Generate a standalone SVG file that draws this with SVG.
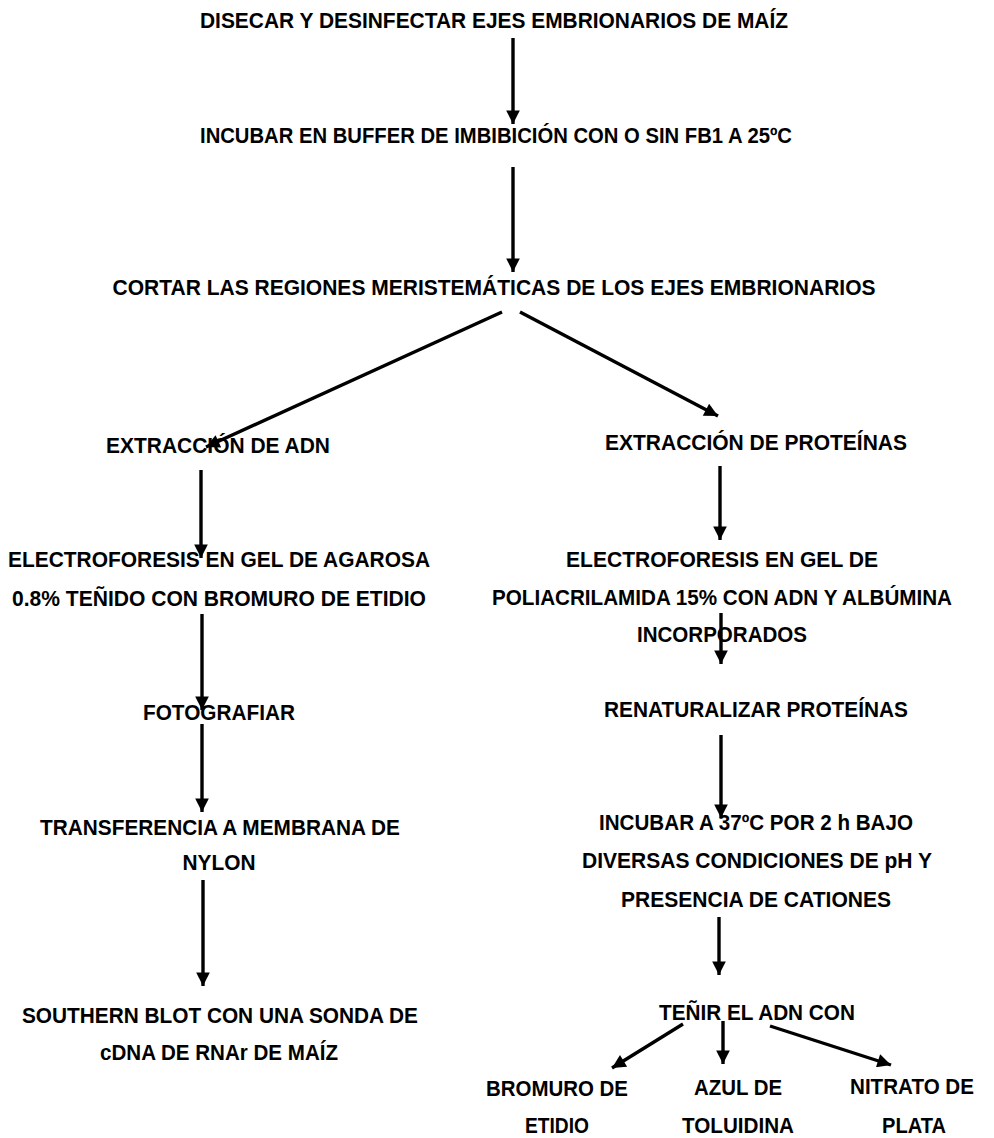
<svg xmlns="http://www.w3.org/2000/svg" width="994" height="1138" viewBox="0 0 994 1138">
<defs>
<marker id="ah" viewBox="0 0 10 10" refX="10" refY="5" markerWidth="4.4" markerHeight="4" markerUnits="strokeWidth" orient="auto">
<path d="M0,0 L10,5 L0,10 z" fill="#000"/>
</marker>
<style>
text{font-family:"Liberation Sans",Arial,sans-serif;font-size:21.5px;font-weight:bold;fill:#000;text-anchor:middle}
.c{stroke:#000;stroke-width:3.4;fill:none;marker-end:url(#ah)}
</style>
</defs>
<rect width="994" height="1138" fill="#fff"/>
<g id="n1"><text x="494" y="28" textLength="588" lengthAdjust="spacingAndGlyphs">DISECAR Y DESINFECTAR EJES EMBRIONARIOS DE MAÍZ</text></g>
<g id="n2"><text x="496" y="143" textLength="592" lengthAdjust="spacingAndGlyphs">INCUBAR EN BUFFER DE IMBIBICIÓN CON O SIN FB1 A 25ºC</text></g>
<g id="n3"><text x="494" y="295" textLength="763" lengthAdjust="spacingAndGlyphs">CORTAR LAS REGIONES MERISTEMÁTICAS DE LOS EJES EMBRIONARIOS</text></g>
<g id="n4"><text x="218" y="453" textLength="224" lengthAdjust="spacingAndGlyphs">EXTRACCIÓN DE ADN</text></g>
<g id="n5"><text x="756" y="450" textLength="302" lengthAdjust="spacingAndGlyphs">EXTRACCIÓN DE PROTEÍNAS</text></g>
<g id="n6"><text x="219" y="567" textLength="422" lengthAdjust="spacingAndGlyphs">ELECTROFORESIS EN GEL DE AGAROSA</text><text x="219" y="606" textLength="414" lengthAdjust="spacingAndGlyphs">0.8% TEÑIDO CON BROMURO DE ETIDIO</text></g>
<g id="n7"><text x="219" y="720" textLength="152" lengthAdjust="spacingAndGlyphs">FOTOGRAFIAR</text></g>
<g id="n8"><text x="220" y="835" textLength="360" lengthAdjust="spacingAndGlyphs">TRANSFERENCIA A MEMBRANA DE</text><text x="219" y="870" textLength="73" lengthAdjust="spacingAndGlyphs">NYLON</text></g>
<g id="n9"><text x="220" y="1023" textLength="396" lengthAdjust="spacingAndGlyphs">SOUTHERN BLOT CON UNA SONDA DE</text><text x="219" y="1060" textLength="238" lengthAdjust="spacingAndGlyphs">cDNA DE RNAr DE MAÍZ</text></g>
<g id="n10"><text x="722" y="567" textLength="312" lengthAdjust="spacingAndGlyphs">ELECTROFORESIS EN GEL DE</text><text x="722" y="605" textLength="460" lengthAdjust="spacingAndGlyphs">POLIACRILAMIDA 15% CON ADN Y ALBÚMINA</text><text x="722" y="642" textLength="170" lengthAdjust="spacingAndGlyphs">INCORPORADOS</text></g>
<g id="n11"><text x="756" y="717" textLength="304" lengthAdjust="spacingAndGlyphs">RENATURALIZAR PROTEÍNAS</text></g>
<g id="n12"><text x="756" y="830" textLength="314" lengthAdjust="spacingAndGlyphs">INCUBAR A 37ºC POR 2 h BAJO</text><text x="757" y="868" textLength="350" lengthAdjust="spacingAndGlyphs">DIVERSAS CONDICIONES DE pH Y</text><text x="756" y="907" textLength="270" lengthAdjust="spacingAndGlyphs">PRESENCIA DE CATIONES</text></g>
<g id="n13"><text x="757" y="1020" textLength="196" lengthAdjust="spacingAndGlyphs">TEÑIR EL ADN CON</text></g>
<g id="n14"><text x="557" y="1096" textLength="142" lengthAdjust="spacingAndGlyphs">BROMURO DE</text><text x="557" y="1133" textLength="64" lengthAdjust="spacingAndGlyphs">ETIDIO</text></g>
<g id="n15"><text x="738" y="1095" textLength="88" lengthAdjust="spacingAndGlyphs">AZUL DE</text><text x="738" y="1133" textLength="112" lengthAdjust="spacingAndGlyphs">TOLUIDINA</text></g>
<g id="n16"><text x="912" y="1094" textLength="124" lengthAdjust="spacingAndGlyphs">NITRATO DE</text><text x="914" y="1133" textLength="64" lengthAdjust="spacingAndGlyphs">PLATA</text></g>
<g id="connectors">
<line class="c" x1="513" y1="38" x2="513" y2="124"/>
<line class="c" x1="513" y1="167" x2="513" y2="272"/>
<line class="c" x1="502" y1="312" x2="206" y2="447"/>
<line class="c" x1="520" y1="312" x2="718" y2="416"/>
<line class="c" x1="201" y1="470" x2="201" y2="558"/>
<line class="c" x1="202" y1="614" x2="202" y2="710"/>
<line class="c" x1="202" y1="724" x2="202" y2="812"/>
<line class="c" x1="203" y1="880" x2="203" y2="986"/>
<line class="c" x1="720" y1="466" x2="720" y2="540"/>
<line class="c" x1="721" y1="613" x2="721" y2="664"/>
<line class="c" x1="721" y1="735" x2="721" y2="818"/>
<line class="c" x1="719" y1="917" x2="719" y2="975"/>
<line class="c" x1="683" y1="1024" x2="612" y2="1068"/>
<line class="c" x1="723" y1="1021" x2="723" y2="1064"/>
<line class="c" x1="770" y1="1026" x2="891" y2="1065"/>
</g>
</svg>
